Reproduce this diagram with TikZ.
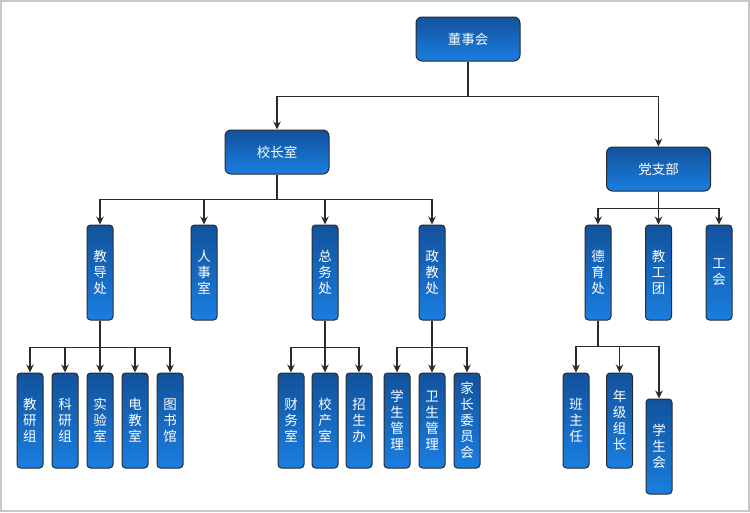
\documentclass[tikz,border=0pt]{standalone}
\usepackage{fontspec}
\usepackage{xcolor}
\usepackage{tikz}
\usetikzlibrary{arrows.meta,positioning}
\newfontfamily\cjk{Noto Sans CJK SC}
\definecolor{boxtop}{HTML}{12529C}
\definecolor{boxbot}{HTML}{1A7EE0}
\definecolor{edge}{HTML}{2B2B2B}
\definecolor{frame}{HTML}{C8C8C8}

\begin{document}
\begin{tikzpicture}[x=1pt, y=-1pt,
    headbox/.style={rectangle, draw=edge, line width=1pt, rounded corners=6pt, top color=boxtop, bottom color=boxbot, text=white, minimum width=104pt, minimum height=44pt, font=\cjk\fontsize{13.5}{16}\selectfont},
    deptbox/.style={rectangle, draw=edge, line width=1pt, rounded corners=3.5pt, top color=boxtop, bottom color=boxbot, text=white, minimum width=26pt, minimum height=95pt, inner sep=0pt, align=center, font=\cjk\fontsize{13.5}{16}\selectfont},
    arr/.style={draw=edge, line width=1.1pt, -{Stealth[length=8pt,width=7.5pt]}}
]
    \useasboundingbox (0,0) rectangle (750,512);
    \draw[frame, line width=2pt] (1,1) rectangle (749,511);

    % top levels
    \node[headbox] (board) at (468,39) {董事会};
    \node[headbox] (principal) at (277,152) {校长室};
    \node[headbox] (party) at (658.5,169) {党支部};

    % departments
    \node[deptbox] (teach) at (100,272.5) {教\\导\\处};
    \node[deptbox] (staff) at (204,272.5) {人\\事\\室};
    \node[deptbox] (general) at (325,272.5) {总\\务\\处};
    \node[deptbox] (polit) at (432,272.5) {政\\教\\处};
    \node[deptbox] (moral) at (598,272.5) {德\\育\\处};
    \node[deptbox] (league) at (658.5,272.5) {教\\工\\团};
    \node[deptbox] (union) at (719,272.5) {工\\会};

    % groups
    \node[deptbox] (res) at (30,420.5) {教\\研\\组};
    \node[deptbox] (sci) at (65,420.5) {科\\研\\组};
    \node[deptbox] (lab) at (100,420.5) {实\\验\\室};
    \node[deptbox] (av) at (135,420.5) {电\\教\\室};
    \node[deptbox] (lib) at (170,420.5) {图\\书\\馆};
    \node[deptbox] (fin) at (291,420.5) {财\\务\\室};
    \node[deptbox] (prop) at (325,420.5) {校\\产\\室};
    \node[deptbox] (enrol) at (359,420.5) {招\\生\\办};
    \node[deptbox] (stud) at (397,420.5) {学\\生\\管\\理};
    \node[deptbox] (hyg) at (432,420.5) {卫\\生\\管\\理};
    \node[deptbox] (parent) at (467,420.5) {家\\长\\委\\员\\会};
    \node[deptbox] (cls) at (576,420.5) {班\\主\\任};
    \node[deptbox] (grade) at (619.5,420.5) {年\\级\\组\\长};
    \node[deptbox] (council) at (659,446.5) {学\\生\\会};

    % connectors
    \draw[arr] (board.south) -- ++(0,35) -| (principal.north);
    \draw[arr] (board.south) -- ++(0,35) -| (party.north);
    \foreach \c in {teach,staff,general,polit}
        \draw[arr] (principal.south) -- ++(0,25) -| (\c.north);
    \foreach \c in {moral,league,union}
        \draw[arr] (party.south) -- ++(0,17) -| (\c.north);
    \foreach \c in {res,sci,lab,av,lib}
        \draw[arr] (teach.south) -- ++(0,27) -| (\c.north);
    \foreach \c in {fin,prop,enrol}
        \draw[arr] (general.south) -- ++(0,27) -| (\c.north);
    \foreach \c in {stud,hyg,parent}
        \draw[arr] (polit.south) -- ++(0,27) -| (\c.north);
    \foreach \c in {cls,grade,council}
        \draw[arr] (moral.south) -- ++(0,26) -| (\c.north);
\end{tikzpicture}
\end{document}
